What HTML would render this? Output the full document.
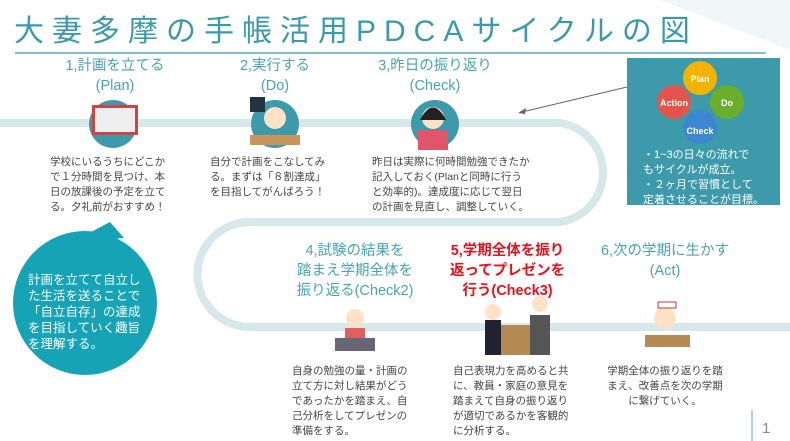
<!DOCTYPE html>
<html><head><meta charset="utf-8"><style>
body{margin:0;width:790px;height:441px;background:#fff;position:relative;overflow:hidden;font-family:"Liberation Sans","Noto Sans CJK JP",sans-serif}
.a{position:absolute;white-space:nowrap}
.h{color:#4aa3b2;font-size:14.5px;text-align:center;line-height:20px}
.t{color:#444;font-size:10.5px;line-height:15px}
</style></head><body>
<svg class="a" style="left:0;top:0" width="790" height="441">
<polygon points="660,0 790,0 790,50" fill="#f1f7f9"/>
<line x1="15" y1="53" x2="766" y2="53" stroke="#5aaab8" stroke-width="1.5"/>
<path d="M0,123 H560 A50,50 0 0 1 560,222 H250 A52,52 0 0 0 250,327 H790" fill="none" stroke="#d6e8ec" stroke-width="8"/>
<line x1="627" y1="87" x2="522" y2="112" stroke="#666" stroke-width="1"/>
<polygon points="518,113 526,108 525,114" fill="#666"/>
<rect x="627" y="58" width="153" height="147" fill="#3c9aab"/>
<circle cx="674" cy="102" r="17" fill="#e3554a"/><text x="674" y="106" font-size="9" fill="#fff" text-anchor="middle" font-weight="bold">Action</text>
<circle cx="700" cy="78" r="17" fill="#f4b300"/><text x="700" y="82" font-size="9" fill="#fff" text-anchor="middle" font-weight="bold">Plan</text>
<circle cx="727" cy="102" r="17" fill="#6aae2b"/><text x="727" y="106" font-size="9" fill="#fff" text-anchor="middle" font-weight="bold">Do</text>
<circle cx="700" cy="127" r="17" fill="#3d86d0"/><text x="700" y="134" font-size="9" fill="#fff" text-anchor="middle" font-weight="bold">Check</text>
<circle cx="85" cy="303" r="72" fill="#17a3b6"/>
<polygon points="110,222 72,242 124,238" fill="#17a3b6"/>
<circle cx="113" cy="124" r="24" fill="#3c9aab"/><rect x="92" y="105" width="46" height="30" fill="#c44" /><rect x="95" y="108" width="40" height="24" fill="#eee"/>
<circle cx="275" cy="124" r="24" fill="#3c9aab"/><rect x="250" y="97" width="15" height="15" fill="#234"/><circle cx="275" cy="118" r="11" fill="#fde2c8"/><rect x="250" y="135" width="50" height="10" fill="#c8965a"/>
<circle cx="435" cy="124" r="24" fill="#3c9aab"/><circle cx="433" cy="118" r="11" fill="#fde2c8"/><path d="M420,120 Q433,95 446,120" fill="#222"/><rect x="418" y="130" width="30" height="20" fill="#e0556a"/>
<circle cx="355" cy="318" r="9" fill="#fde2c8"/><rect x="345" y="328" width="20" height="14" fill="#e06060"/><rect x="335" y="338" width="40" height="13" fill="#667"/>
<circle cx="493" cy="312" r="8" fill="#fde2c8"/><circle cx="540" cy="304" r="8" fill="#fde2c8"/><rect x="500" y="325" width="50" height="30" fill="#b48a52"/><rect x="485" y="320" width="16" height="35" fill="#223"/><rect x="530" y="315" width="20" height="40" fill="#555"/>
<circle cx="665" cy="318" r="11" fill="#fde2c8"/><rect x="658" y="302" width="18" height="6" fill="#fff" stroke="#c33"/><rect x="645" y="335" width="45" height="12" fill="#b48a52"/>
<line x1="752" y1="410" x2="752" y2="441" stroke="#5aaab8"/>
</svg>
<div class="a" style="left:14px;top:6px;font-size:30px;letter-spacing:8px;color:#3a9aaa">大妻多摩の手帳活用PDCAサイクルの図</div>
<div class="a h" style="left:40px;top:56px;width:150px">1,計画を立てる<br>(Plan)</div>
<div class="a h" style="left:200px;top:56px;width:150px">2,実行する<br>(Do)</div>
<div class="a h" style="left:355px;top:56px;width:160px">3,昨日の振り返り<br>(Check)</div>
<div class="a t" style="left:50px;top:155px">学校にいるうちにどこか<br>で１分時間を見つけ、本<br>日の放課後の予定を立て<br>る。夕礼前がおすすめ！</div>
<div class="a t" style="left:210px;top:155px">自分で計画をこなしてみ<br>る。まずは「８割達成」<br>を目指してがんばろう！</div>
<div class="a t" style="left:372px;top:155px">昨日は実際に何時間勉強できたか<br>記入しておく(Planと同時に行う<br>と効率的)。達成度に応じて翌日<br>の計画を見直し、調整していく。</div>
<div class="a" style="left:643px;top:148px;color:#fff;font-size:11px;line-height:15px">・1~3の日々の流れで<br>もサイクルが成立。<br>・２ヶ月で習慣として<br>定着させることが目標。</div>
<div class="a" style="left:28px;top:272px;color:#fff;font-size:12.5px;line-height:16px">計画を立てて自立し<br>た生活を送ることで<br>「自立自存」の達成<br>を目指していく趣旨<br>を理解する。</div>
<div class="a h" style="left:285px;top:241px;width:140px">4,試験の結果を<br>踏まえ学期全体を<br>振り返る(Check2)</div>
<div class="a h" style="left:440px;top:241px;width:135px;color:#e8101a;font-weight:bold">5,学期全体を振り<br>返ってプレゼンを<br>行う(Check3)</div>
<div class="a h" style="left:595px;top:241px;width:140px">6,次の学期に生かす<br>(Act)</div>
<div class="a t" style="left:292px;top:364px">自身の勉強の量・計画の<br>立て方に対し結果がどう<br>であったかを踏まえ、自<br>己分析をしてプレゼンの<br>準備をする。</div>
<div class="a t" style="left:453px;top:364px">自己表現力を高めると共<br>に、教員・家庭の意見を<br>踏まえて自身の振り返り<br>が適切であるかを客観的<br>に分析する。</div>
<div class="a t" style="left:600px;top:364px;width:130px;text-align:center">学期全体の振り返りを踏<br>まえ、改善点を次の学期<br>に繋げていく。</div>
<div class="a" style="left:762px;top:420px;font-size:15px;color:#888">1</div>
</body></html>
